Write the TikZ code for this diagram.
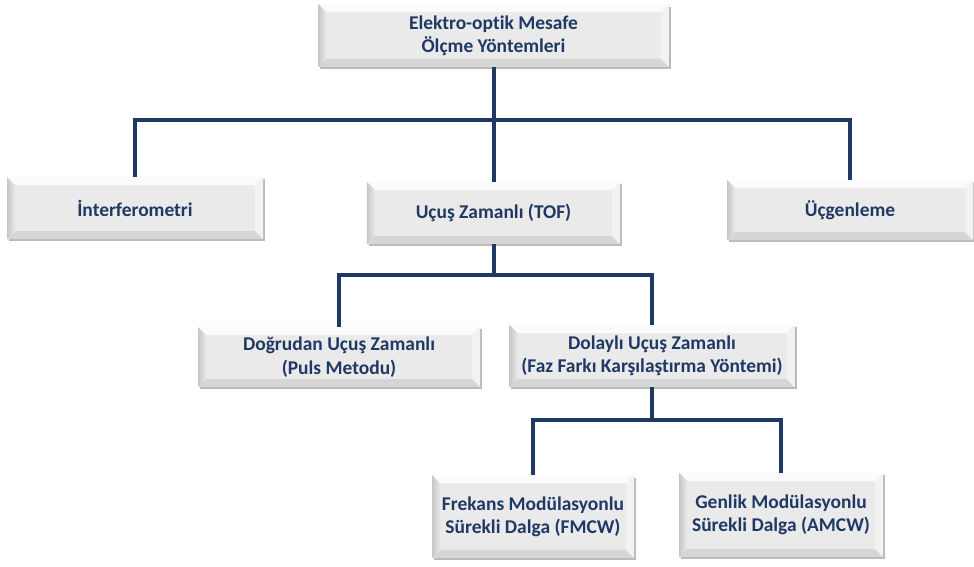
\documentclass[tikz,border=0pt]{standalone}
\usepackage{fontspec}
\setmainfont{Carlito}[Ligatures=NoCommon]
\usepackage{tikz}
\usetikzlibrary{positioning, shadows, backgrounds}
\definecolor{lacivert}{HTML}{1F3864}
\definecolor{kutugri}{HTML}{EAEAEA}
\newcommand{\yazi}{\fontsize{14.6}{17.5}\selectfont\bfseries}
\newcommand{\pahli}{%
    \coordinate (pnw) at (path picture bounding box.north west);
    \coordinate (pne) at (path picture bounding box.north east);
    \coordinate (psw) at (path picture bounding box.south west);
    \coordinate (pse) at (path picture bounding box.south east);
    \fill[white!80!kutugri] (pnw) -- (pne) -- ([xshift=-6pt,yshift=-6pt]pne) -- ([xshift=6pt,yshift=-6pt]pnw) -- cycle;
    \fill[black!16] (psw) -- (pse) -- ([xshift=-6pt,yshift=6pt]pse) -- ([xshift=6pt,yshift=6pt]psw) -- cycle;
    \shade[left color=black!22, right color=black!9] (pnw) -- (psw) -- ([xshift=6pt,yshift=6pt]psw) -- ([xshift=6pt,yshift=-6pt]pnw) -- cycle;
    \fill[black!5] (pne) -- (pse) -- ([xshift=-6pt,yshift=6pt]pse) -- ([xshift=-6pt,yshift=-6pt]pne) -- cycle;
}
\tikzset{
    kutu/.style={rectangle, inner sep=0pt, align=center, fill=kutugri, text=lacivert, font=\yazi,
        drop shadow={shadow xshift=1.5pt, shadow yshift=-1.8pt, fill=black!45, opacity=0.6},
        path picture={\pahli}},
    hat/.style={draw=lacivert, line width=3pt}
}

\begin{document}
\begin{tikzpicture}[x=0.75pt, y=-0.75pt]
        \useasboundingbox (0,0) rectangle (974,567);

        % Ana baslik
        \node (ust) [kutu, minimum width=263pt, minimum height=47pt] at (493.5,35.5) {Elektro-optik Mesafe\\Ölçme Yöntemleri};

        % Birinci seviye
        \node (interf) [kutu, minimum width=192pt, minimum height=46.5pt] at (135,208) {İnterferometri};
        \node (tof) [kutu, minimum width=190pt, minimum height=46.5pt] at (493.5,213) {Uçuş Zamanlı (TOF)};
        \node (ucgen) [kutu, minimum width=184.5pt, minimum height=45pt] at (850,210) {Üçgenleme};

        % Ikinci seviye
        \node (dogrudan) [kutu, minimum width=211.5pt, minimum height=45pt] at (339,357) {Doğrudan Uçuş Zamanlı\\(Puls Metodu)};
        \node (dolayli) [kutu, minimum width=214pt, minimum height=46.5pt] at (652,356) {Dolaylı Uçuş Zamanlı\\(Faz Farkı Karşılaştırma Yöntemi)};

        % Ucuncu seviye
        \node (fmcw) [kutu, minimum width=151.5pt, minimum height=62pt] at (533,516.5) {Frekans Modülasyonlu\\Sürekli Dalga (FMCW)};
        \node (amcw) [kutu, minimum width=153pt, minimum height=63pt] at (781,515) {Genlik Modülasyonlu\\Sürekli Dalga (AMCW)};

        % Baglantilar
        \coordinate (kol1) at (493.5,120);
        \coordinate (kol2) at (493.5,275);
        \coordinate (kol3) at (652,420);
        \draw [hat] (ust) -- (kol1);
        \draw [hat] (interf) |- (kol1) -| (ucgen);
        \draw [hat] (kol1) -- (tof);
        \draw [hat] (tof) -- (kol2);
        \draw [hat] (dogrudan) |- (kol2) -| (dolayli);
        \draw [hat] (dolayli) -- (kol3);
        \draw [hat] (fmcw) |- (kol3) -| (amcw);

    \end{tikzpicture}
\end{document}
